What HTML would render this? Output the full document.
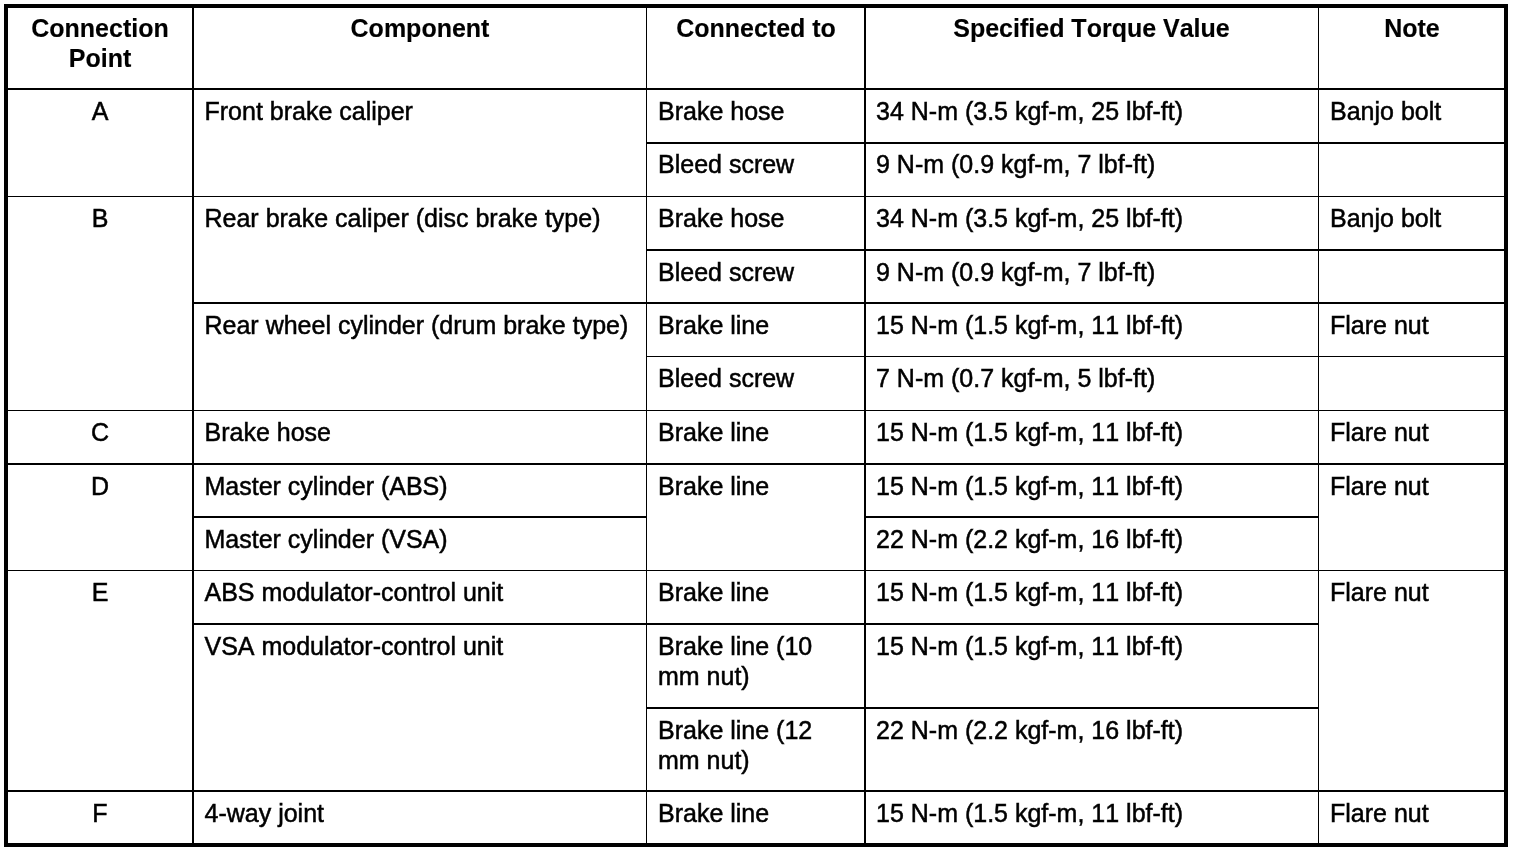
<!DOCTYPE html>
<html lang="en">
<head>
<meta charset="utf-8">
<title>Brake system torque specifications</title>
<style>
html,body{margin:0;padding:0;background:#fff;}
body{width:1520px;height:852px;position:relative;overflow:hidden;color:#000;
 font-family:"Liberation Sans",sans-serif;font-size:25px;line-height:30px;font-kerning:none;}
#frame{position:absolute;left:4px;top:4px;width:1504px;height:843px;box-sizing:border-box;border:4px solid #000;}
.h,.v{position:absolute;background:#000;}
table{position:absolute;left:8px;top:8px;width:1498px;border-collapse:collapse;table-layout:fixed;border-spacing:0;}
td,th{padding:0;margin:0;vertical-align:top;text-align:left;font-weight:normal;white-space:nowrap;overflow:visible;}
td{padding:8px 0 0 12px;-webkit-text-stroke:0.5px #000;}
th{padding:5px 0 0 0;text-align:center;font-weight:bold;-webkit-text-stroke:0.15px #000;}
td.c{text-align:center;padding-left:0;}
td.comp{padding-left:12.5px;}
th.s2{padding-left:2px;}
th.s1{padding-left:1px;}
.l{display:block;height:30px;line-height:30px;}
</style>
</head>
<body>
<div id="frame"></div>
<table>
<colgroup><col style="width:184px"><col style="width:454px"><col style="width:218px"><col style="width:454px"><col style="width:188px"></colgroup>
<thead><tr style="height:80px"><th><span class="l">Connection </span><span class="l">Point</span></th><th class="s2"><span class="l">Component</span></th><th class="s2"><span class="l">Connected to</span></th><th class="s1"><span class="l">Specified Torque Value</span></th><th><span class="l">Note</span></th></tr></thead>
<tbody>
<tr style="height:53px"><td rowspan="2" class="c"><span class="l">A</span></td><td rowspan="2" class="comp"><span class="l">Front brake caliper</span></td><td><span class="l">Brake hose</span></td><td><span class="l">34 N-m (3.5 kgf-m, 25 lbf-ft)</span></td><td><span class="l">Banjo bolt</span></td></tr>
<tr style="height:54px"><td><span class="l">Bleed screw</span></td><td><span class="l">9 N-m (0.9 kgf-m, 7 lbf-ft)</span></td><td></td></tr>
<tr style="height:54px"><td rowspan="4" class="c"><span class="l">B</span></td><td rowspan="2" class="comp"><span class="l">Rear brake caliper (disc brake type)</span></td><td><span class="l">Brake hose</span></td><td><span class="l">34 N-m (3.5 kgf-m, 25 lbf-ft)</span></td><td><span class="l">Banjo bolt</span></td></tr>
<tr style="height:53px"><td><span class="l">Bleed screw</span></td><td><span class="l">9 N-m (0.9 kgf-m, 7 lbf-ft)</span></td><td></td></tr>
<tr style="height:53px"><td rowspan="2" class="comp"><span class="l">Rear wheel cylinder (drum brake type)</span></td><td><span class="l">Brake line</span></td><td><span class="l">15 N-m (1.5 kgf-m, 11 lbf-ft)</span></td><td><span class="l">Flare nut</span></td></tr>
<tr style="height:54px"><td><span class="l">Bleed screw</span></td><td><span class="l">7 N-m (0.7 kgf-m, 5 lbf-ft)</span></td><td></td></tr>
<tr style="height:54px"><td class="c"><span class="l">C</span></td><td class="comp"><span class="l">Brake hose</span></td><td><span class="l">Brake line</span></td><td><span class="l">15 N-m (1.5 kgf-m, 11 lbf-ft)</span></td><td><span class="l">Flare nut</span></td></tr>
<tr style="height:53px"><td rowspan="2" class="c"><span class="l">D</span></td><td class="comp"><span class="l">Master cylinder (ABS)</span></td><td rowspan="2"><span class="l">Brake line</span></td><td><span class="l">15 N-m (1.5 kgf-m, 11 lbf-ft)</span></td><td rowspan="2"><span class="l">Flare nut</span></td></tr>
<tr style="height:53px"><td class="comp"><span class="l">Master cylinder (VSA)</span></td><td><span class="l">22 N-m (2.2 kgf-m, 16 lbf-ft)</span></td></tr>
<tr style="height:54px"><td rowspan="3" class="c"><span class="l">E</span></td><td class="comp"><span class="l">ABS modulator-control unit</span></td><td><span class="l">Brake line</span></td><td><span class="l">15 N-m (1.5 kgf-m, 11 lbf-ft)</span></td><td rowspan="3"><span class="l">Flare nut</span></td></tr>
<tr style="height:84px"><td rowspan="2" class="comp"><span class="l">VSA modulator-control unit</span></td><td><span class="l">Brake line (10 </span><span class="l">mm nut)</span></td><td><span class="l">15 N-m (1.5 kgf-m, 11 lbf-ft)</span></td></tr>
<tr style="height:83px"><td><span class="l">Brake line (12 </span><span class="l">mm nut)</span></td><td><span class="l">22 N-m (2.2 kgf-m, 16 lbf-ft)</span></td></tr>
<tr style="height:53px"><td class="c"><span class="l">F</span></td><td class="comp"><span class="l">4-way joint</span></td><td><span class="l">Brake line</span></td><td><span class="l">15 N-m (1.5 kgf-m, 11 lbf-ft)</span></td><td><span class="l">Flare nut</span></td></tr>
</tbody>
</table>
<div class="h" style="left:8px;top:88px;width:1496px;height:2px"></div>
<div class="h" style="left:646px;top:142px;width:858px;height:2px"></div>
<div class="h" style="left:8px;top:196px;width:1496px;height:1px"></div>
<div class="h" style="left:646px;top:249px;width:858px;height:2px"></div>
<div class="h" style="left:192px;top:302px;width:1312px;height:2px"></div>
<div class="h" style="left:646px;top:356px;width:858px;height:1px"></div>
<div class="h" style="left:8px;top:410px;width:1496px;height:1px"></div>
<div class="h" style="left:8px;top:463px;width:1496px;height:2px"></div>
<div class="h" style="left:192px;top:516px;width:454px;height:2px"></div>
<div class="h" style="left:864px;top:516px;width:454px;height:2px"></div>
<div class="h" style="left:8px;top:570px;width:1496px;height:1px"></div>
<div class="h" style="left:192px;top:623px;width:1126px;height:2px"></div>
<div class="h" style="left:646px;top:707px;width:672px;height:2px"></div>
<div class="h" style="left:8px;top:790px;width:1496px;height:2px"></div>
<div class="v" style="left:192px;top:8px;width:2px;height:835px"></div>
<div class="v" style="left:646px;top:8px;width:1px;height:835px"></div>
<div class="v" style="left:864px;top:8px;width:2px;height:835px"></div>
<div class="v" style="left:1318px;top:8px;width:1px;height:835px"></div>
</body>
</html>
